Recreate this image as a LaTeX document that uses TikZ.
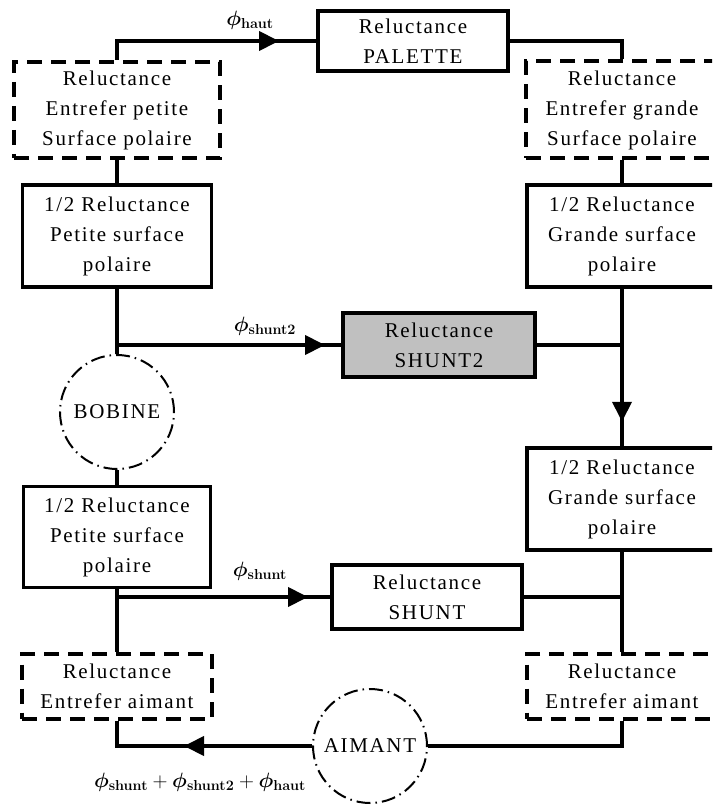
\documentclass[tikz,border=0pt]{standalone}
\usepackage[no-math]{fontspec}
\setmainfont{Liberation Serif}[LetterSpace=8]
\usepackage{amsmath,bm}
\usetikzlibrary{arrows.meta,decorations.markings}
\definecolor{shade}{RGB}{192,192,192}
\begin{document}
\begin{tikzpicture}[x=1pt,y=-1pt,
  every node/.style={font=\fontsize{21}{30}\selectfont, align=center, inner sep=0pt},
  solidbox/.style={draw, line width=3.5pt, fill=white},
  dbox/.style={draw, line width=4pt, dash pattern=on 15pt off 9pt},
  circ/.style={circle, draw, line width=2pt, dash pattern=on 14pt off 5pt on 1.5pt off 5pt, minimum size=114pt},
  conn/.style={line width=4pt},
  tipat/.style={postaction={decorate}, decoration={markings, mark=at position #1 with {\arrow{Triangle[length=20pt,width=19pt]}}}},
  lab/.style={font=\fontsize{21}{24}\selectfont}]
\clip (0,0) rectangle (712,805);
% nodes
\node[solidbox, minimum width=190pt, minimum height=60pt] (pal) at (413,41) {Reluctance\\PALETTE};
\node[dbox, minimum width=206pt, minimum height=96pt] (egp) at (117,110) {Reluctance\\Entrefer petite\\Surface polaire};
\node[dbox, minimum width=192pt, minimum height=97pt] (egg) at (622,110) {Reluctance\\Entrefer grande\\Surface polaire};
\node[solidbox, minimum width=189pt, minimum height=102pt] (hp1) at (117,236) {1/2 Reluctance\\Petite surface\\polaire};
\node[solidbox, minimum width=190pt, minimum height=102pt] (hg1) at (622,236) {1/2 Reluctance\\Grande surface\\polaire};
\node[solidbox, fill=shade, minimum width=192pt, minimum height=64pt] (sh2) at (439,345) {Reluctance\\SHUNT2};
\node[circ] (bob) at (117,412) {BOBINE};
\node[solidbox, minimum width=187pt, minimum height=101pt] (hp2) at (117,537) {1/2 Reluctance\\Petite surface\\polaire};
\node[solidbox, minimum width=190pt, minimum height=102pt] (hg2) at (622,499) {1/2 Reluctance\\Grande surface\\polaire};
\node[solidbox, minimum width=190pt, minimum height=64pt] (sh) at (427,597) {Reluctance\\SHUNT};
\node[dbox, minimum width=190pt, minimum height=65pt] (egl) at (117,686) {Reluctance\\Entrefer aimant};
\node[dbox, minimum width=190pt, minimum height=65pt] (egr) at (622,686) {Reluctance\\Entrefer aimant};
\node[circ] (aim) at (370,746) {AIMANT};
% junctions
\coordinate (j1) at (117,345);
\coordinate (j2) at (117,597);
\coordinate (j3) at (622,345);
\coordinate (j4) at (622,597);
% connectors
\draw[conn, tipat=181pt] (egp.north) |- (pal.west);
\draw[conn] (pal.east) -| (egg.north);
\draw[conn] (egp.south) -- (hp1.north);
\draw[conn] (hp1.south) -- (bob.north);
\draw[conn, tipat=208pt] (j1) -- (sh2.west);
\draw[conn] (bob.south) -- (hp2.north);
\draw[conn] (hp2.south) -- (egl.north);
\draw[conn, tipat=191pt] (j2) -- (sh.west);
\draw[conn, tipat=128pt] (aim.west) -| (egl.south);
\draw[conn] (aim.east) -| (egr.south);
\draw[conn] (egg.south) -- (hg1.north);
\draw[conn, tipat=133pt] (hg1.south) -- (hg2.north);
\draw[conn] (sh2.east) -- (j3);
\draw[conn] (hg2.south) -- (egr.north);
\draw[conn] (sh.east) -- (j4);
% labels
\node[lab] (lh) at (250,20) {$\bm{\phi}_{\mathbf{haut}}$};
\node[lab] (ls2) at (265,326) {$\bm{\phi}_{\mathbf{shunt2}}$};
\node[lab] (ls) at (260,571) {$\bm{\phi}_{\mathbf{shunt}}$};
\node[lab] (lsum) at (200,782) {$\bm{\phi}_{\mathbf{shunt}}+\bm{\phi}_{\mathbf{shunt2}}+\bm{\phi}_{\mathbf{haut}}$};
\end{tikzpicture}
\end{document}
